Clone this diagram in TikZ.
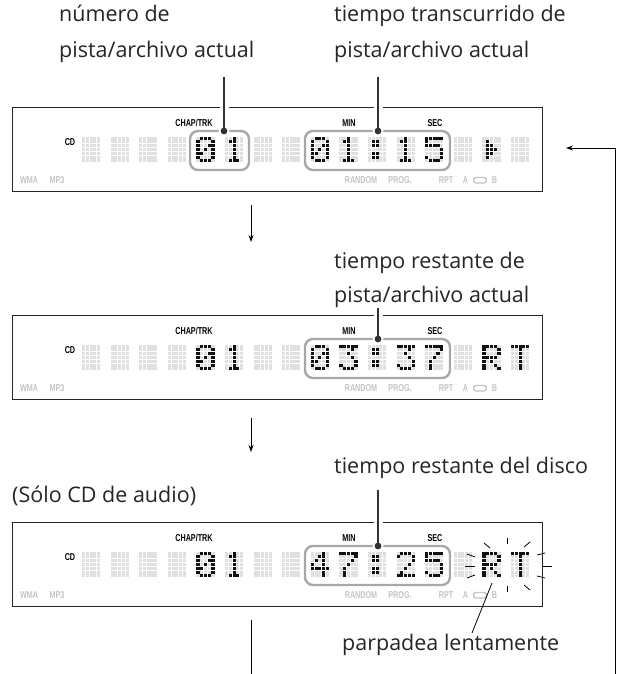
\documentclass[tikz,border=0pt]{standalone}
\usepackage{fontspec}
\setmainfont{Open Sans}
\newfontfamily\lcdfont[FakeStretch=0.72]{Liberation Sans}
\usetikzlibrary{arrows.meta}
\definecolor{offdot}{HTML}{E0E0E0}
\definecolor{litdot}{HTML}{111111}
\definecolor{lbl}{HTML}{C4C4C4}
\definecolor{grp}{HTML}{A8A8A8}
\definecolor{ptr}{HTML}{333333}
% dot-matrix glyphs, 7 rows of 5 columns
\expandafter\def\csname gB\endcsname{{00000}{00000}{00000}{00000}{00000}{00000}{00000}}
\expandafter\def\csname g0\endcsname{{01110}{10001}{10011}{10101}{11001}{10001}{01110}}
\expandafter\def\csname g1\endcsname{{00100}{01100}{00100}{00100}{00100}{00100}{01110}}
\expandafter\def\csname g2\endcsname{{01110}{10001}{00001}{00010}{00100}{01000}{11111}}
\expandafter\def\csname g3\endcsname{{11111}{00010}{00100}{00010}{00001}{10001}{01110}}
\expandafter\def\csname g4\endcsname{{00010}{00110}{01010}{10010}{11111}{00010}{00010}}
\expandafter\def\csname g5\endcsname{{11111}{10000}{11110}{00001}{00001}{10001}{01110}}
\expandafter\def\csname g7\endcsname{{11111}{00001}{00010}{00100}{01000}{01000}{01000}}
\expandafter\def\csname gc\endcsname{{00000}{01100}{01100}{00000}{01100}{01100}{00000}}
\expandafter\def\csname gR\endcsname{{11110}{10001}{10001}{11110}{10100}{10010}{10001}}
\expandafter\def\csname gT\endcsname{{11111}{00100}{00100}{00100}{00100}{00100}{00100}}
\expandafter\def\csname gP\endcsname{{00000}{01000}{01100}{01110}{01100}{01000}{00000}}
\def\lcddot#1#2#3{\ifnum#3=1 \fill[litdot] ({\cellx+#1*3.75},{\celly+#2*3.8}) rectangle ++(3.1,3.1);\else\fill[offdot] ({\cellx+#1*3.75},{\celly+#2*3.8}) rectangle ++(3.1,3.1);\fi}
\def\lcdrowdraw#1#2#3#4#5#6{\lcddot0{#1}#2\lcddot1{#1}#3\lcddot2{#1}#4\lcddot3{#1}#5\lcddot4{#1}#6}
\def\lcdglyph#1#2#3#4#5#6#7{\lcdrowdraw0#1\lcdrowdraw1#2\lcdrowdraw2#3\lcdrowdraw3#4\lcdrowdraw4#5\lcdrowdraw5#6\lcdrowdraw6#7}
\tikzset{
  lcdbox/.style={draw=black!85, line width=0.9pt, minimum width=530pt, minimum height=84pt, inner sep=0pt},
  onlab/.style={font=\lcdfont\bfseries\fontsize{10}{11}\selectfont, inner sep=0pt, text=black},
  offlab/.style={onlab, text=lbl},
  grpbox/.style={draw=grp, line width=2.4pt, rounded corners=8pt},
  halo/.style={draw=white, line width=9pt},
  ptrline/.style={draw=ptr, line width=2.6pt},
  txtlabel/.style={font=\fontsize{21.5}{26}\selectfont, inner sep=0pt, anchor=base west, text=black!85},
  flow/.style={draw=black, line width=0.9pt},
  flowarrow/.style={flow, -{Stealth[length=7pt,width=5pt]}},
  ray/.style={draw=black, line width=0.8pt},
  loop/.style={draw=lbl, line width=1.4pt, rounded corners=2.4pt},
}
\newcommand\lcdpanel[3]{%
  \node[lcdbox] (box#1) at (277,{#2+42}) {};
  \def\celly{#2+29.5}%
  \foreach \g [count=\i from 0] in {#3} {%
    \pgfmathsetmacro\cellx{82+28.6*\i}%
    \expandafter\expandafter\expandafter\lcdglyph\csname g\g\endcsname
  }%
  \node[onlab] (cd#1) at (70,{#2+35}) {CD};
  \node[onlab] (chap#1) at (194,{#2+16}) {CHAP/TRK};
  \node[onlab] (min#1) at (349,{#2+16}) {MIN};
  \node[onlab] (sec#1) at (435,{#2+16}) {SEC};
  \node[offlab] (wma#1) at (29,{#2+73.5}) {WMA};
  \node[offlab] (mp#1) at (57,{#2+73.5}) {MP3};
  \node[offlab] (rnd#1) at (361,{#2+73.5}) {RANDOM};
  \node[offlab] (prg#1) at (400,{#2+73.5}) {PROG.};
  \node[offlab] (rpt#1) at (446,{#2+73.5}) {RPT};
  \node[offlab] (ra#1) at (465.5,{#2+73.5}) {A};
  \draw[loop] (473.5,{#2+70.5}) rectangle (486.5,{#2+76});
  \node[offlab] (rb#1) at (494.5,{#2+73.5}) {B};
  \draw[grpbox] (305,{#2+24}) rectangle (450,{#2+63});
}
\begin{document}
\begin{tikzpicture}[x=1pt,y=-1pt]
\useasboundingbox[fill=white] (0,0) rectangle (619,674);
% texts
\node[txtlabel] (lab1a) at (59,22) {número de};
\node[txtlabel] (lab1b) at (59,58) {pista/archivo actual};
\node[txtlabel] (lab2a) at (334,22) {tiempo transcurrido de};
\node[txtlabel] (lab2b) at (334,58) {pista/archivo actual};
\node[txtlabel] (lab3a) at (334,268) {tiempo restante de};
\node[txtlabel] (lab3b) at (334,302) {pista/archivo actual};
\node[txtlabel] (lab4) at (334,473) {tiempo restante del disco};
\node[txtlabel] (lab5) at (12,502) {(Sólo CD de audio)};
\node[txtlabel] (lab6) at (342,650) {parpadea lentamente};
% panels
\lcdpanel{1}{107}{B,B,B,B,0,1,B,B,0,1,c,1,5,B,P,B}
\draw[grpbox] (190,131) rectangle (249,170);
\lcdpanel{2}{315}{B,B,B,B,0,1,B,B,0,3,c,3,7,B,R,T}
\lcdpanel{3}{522}{B,B,B,B,0,1,B,B,4,7,c,2,5,B,R,T}
% pointers
\coordinate (p1t) at (224,77);  \coordinate (p1d) at (224,131);
\coordinate (p2t) at (378,77);  \coordinate (p2d) at (378,131);
\coordinate (p3t) at (378,308); \coordinate (p3d) at (378,339);
\coordinate (p4t) at (378,490); \coordinate (p4d) at (378,546);
\foreach \p in {1,2,3,4} {
  \draw[halo] (p\p t) -- (p\p d);
  \fill[white] (p\p d) circle (5.5);
  \draw[ptrline] (p\p t) -- (p\p d);
  \fill[ptr] (p\p d) circle (3.4);
}
% blinking rays around RT
\draw[ray] (484,543) -- (490,548);
\draw[ray] (507,538) -- (507,544);
\draw[ray] (524,547) -- (530,542);
\draw[ray] (537,555) -- (545,553);
\draw[ray] (543,566) -- (552,566);
\draw[ray] (537,576) -- (545,578);
\draw[ray] (524,585) -- (530,590);
\draw[ray] (507,586) -- (507,592);
\draw[ray] (467,578) -- (475,575);
\draw[ray] (465,566) -- (475,566);
\draw[ray] (467,554) -- (475,557);
% leader for blinking
\coordinate (bl1) at (492,583);
\coordinate (bl2) at (472,633);
\draw[ray] (bl1) -- (bl2);
% flow
\coordinate (f1a) at (251,205); \coordinate (f1b) at (251,242);
\coordinate (f2a) at (251,418); \coordinate (f2b) at (251,452);
\coordinate (f3a) at (251,620); \coordinate (f3b) at (251,674);
\coordinate (r1) at (615,674); \coordinate (r2) at (566,148);
\draw[flowarrow] (f1a) -- (f1b);
\draw[flowarrow] (f2a) -- (f2b);
\draw[flow] (f3a) -- (f3b);
\draw[flowarrow] (r1) |- (r2);
\end{tikzpicture}
\end{document}
